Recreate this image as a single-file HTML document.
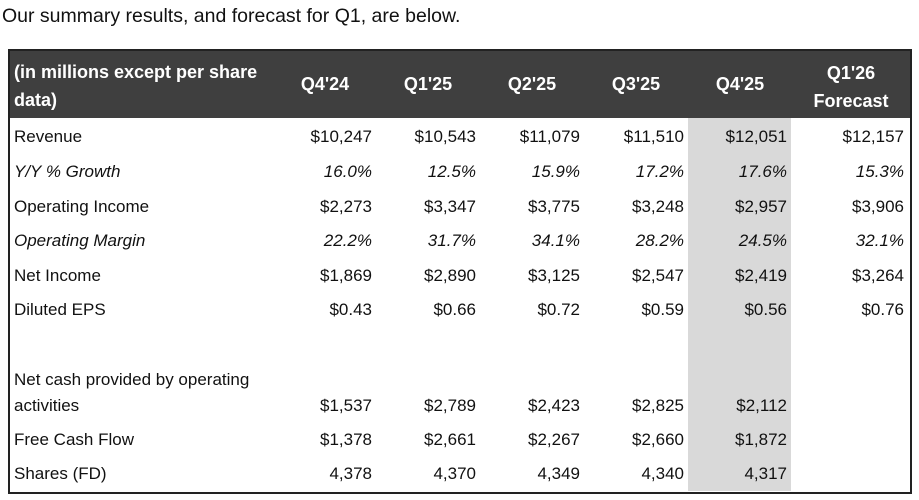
<!DOCTYPE html>
<html><head><meta charset="utf-8"><style>
body{margin:0;width:919px;height:500px;background:#fff;position:relative;overflow:hidden;font-family:"Liberation Sans","Noto Sans CJK SC",sans-serif;color:#111}
.t{position:absolute;white-space:nowrap;font-size:17px;line-height:20px}
.r{text-align:right;width:110px}
.i{font-style:italic}
.h{color:#fff;font-weight:bold;font-size:18px;text-align:center;width:120px}
</style></head><body>
<div class="t" style="left:2px;top:5px;font-size:19.5px;line-height:22px">Our summary results, and forecast for Q1, are below.</div>
<div style="position:absolute;left:9px;top:50px;width:901px;height:68px;background:#3f3f3f"></div>
<div style="position:absolute;left:688px;top:118px;width:103px;height:373px;background:#d9d9d9"></div>
<div style="position:absolute;left:8px;top:49px;width:900px;height:441px;border:2px solid #222"></div>
<div class="t" style="left:14px;top:58px;color:#fff;font-weight:bold;font-size:18px;line-height:28px">(in millions except per share<br>data)</div>
<div class="t h" style="left:265px;top:74px">Q4'24</div>
<div class="t h" style="left:368px;top:74px">Q1'25</div>
<div class="t h" style="left:472px;top:74px">Q2'25</div>
<div class="t h" style="left:576px;top:74px">Q3'25</div>
<div class="t h" style="left:680px;top:74px">Q4'25</div>
<div class="t h" style="left:791px;top:59px;line-height:28px">Q1'26<br>Forecast</div>

<div class="t" style="left:14px;top:127px">Revenue</div>
<div class="t i" style="left:14px;top:162px">Y/Y % Growth</div>
<div class="t" style="left:14px;top:197px">Operating Income</div>
<div class="t i" style="left:14px;top:231px">Operating Margin</div>
<div class="t" style="left:14px;top:266px">Net Income</div>
<div class="t" style="left:14px;top:300px">Diluted EPS</div>
<div class="t" style="left:14px;top:367px;line-height:26px">Net cash provided by operating<br>activities</div>
<div class="t" style="left:14px;top:430px">Free Cash Flow</div>
<div class="t" style="left:14px;top:464px">Shares (FD)</div>

<div id="v"></div>
<script>
var rows=[[127,"",["$10,247","$10,543","$11,079","$11,510","$12,051","$12,157"]],
[162,"i",["16.0%","12.5%","15.9%","17.2%","17.6%","15.3%"]],
[197,"",["$2,273","$3,347","$3,775","$3,248","$2,957","$3,906"]],
[231,"i",["22.2%","31.7%","34.1%","28.2%","24.5%","32.1%"]],
[266,"",["$1,869","$2,890","$3,125","$2,547","$2,419","$3,264"]],
[300,"",["$0.43","$0.66","$0.72","$0.59","$0.56","$0.76"]],
[396,"",["$1,537","$2,789","$2,423","$2,825","$2,112"]],
[430,"",["$1,378","$2,661","$2,267","$2,660","$1,872"]],
[464,"",["4,378","4,370","4,349","4,340","4,317"]]];
var rights=[372,476,580,684,787,904],h="";
rows.forEach(function(r){r[2].forEach(function(v,j){h+='<div class="t r '+r[1]+'" style="left:'+(rights[j]-110)+'px;top:'+r[0]+'px">'+v+'</div>';});});
document.getElementById("v").innerHTML=h;
</script>
</body></html>
